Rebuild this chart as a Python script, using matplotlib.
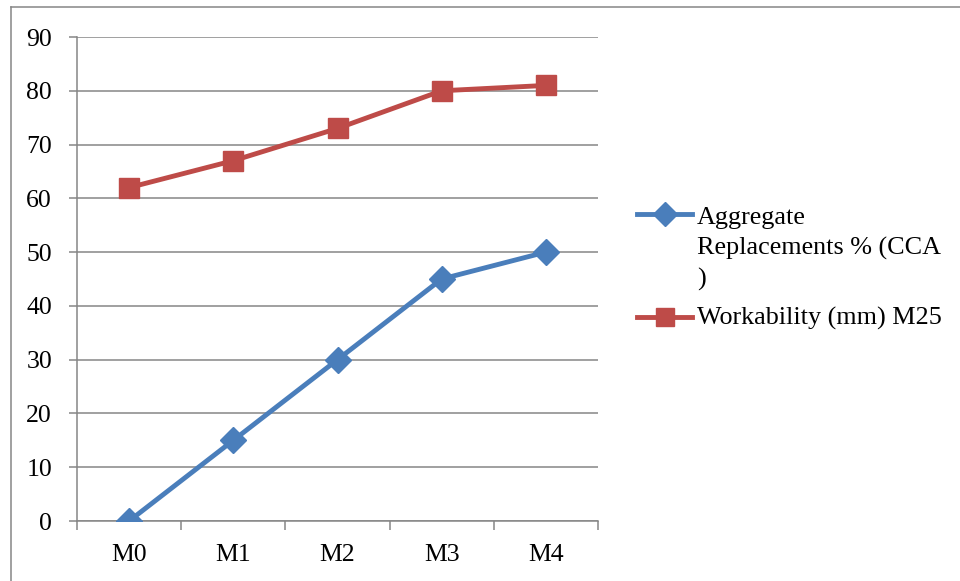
import numpy as np
import matplotlib
matplotlib.use("Agg")
import matplotlib.pyplot as plt
from matplotlib.lines import Line2D

plt.rcParams['font.family'] = ['Liberation Serif', 'DejaVu Serif']

# mix designations and the two series
mixes = ["M0", "M1", "M2", "M3", "M4"]
cca_replacement = [0, 15, 30, 45, 50]
workability_m25 = [62, 67, 73, 80, 81]
y_ticks = [0, 10, 20, 30, 40, 50, 60, 70, 80, 90]
series_names = ["Aggregate\nReplacements % (CCA\n)", "Workability (mm) M25"]

grid_col = "#868686"
blue = "#4A7EBB"
red = "#BE4B48"
W, H = 960, 581


def fx(px):
    return px / W


def fy(py):
    return 1 - py / H


fig = plt.figure(figsize=(9.6, 5.81), dpi=100)
ax = fig.add_axes([fx(77), fy(521), fx(598 - 77), (521 - 37) / H])

x = np.arange(len(mixes))
styles = [dict(color=blue, marker='D', ms=13), dict(color=red, marker='s', ms=14)]
for vals, st in zip([cca_replacement, workability_m25], styles):
    ax.plot(x, vals, color=st['color'], lw=3.5, marker=st['marker'], ms=st['ms'],
            mfc=st['color'], mec=st['color'], zorder=3)

ax.set_xlim(-0.5, len(mixes) - 0.5)
ax.set_ylim(0, 90)
ax.set_yticks(y_ticks)
ax.set_xticks(x)
ax.set_xticklabels(mixes)
ax.set_xticks(np.arange(-0.5, len(mixes)), minor=True)
ax.tick_params(axis='x', which='major', length=0, pad=16.5, labelsize=18.5)
ax.tick_params(axis='x', which='minor', length=6.5, width=1.1, color=grid_col, direction='out')
ax.tick_params(axis='y', length=6, width=1.1, color=grid_col, pad=12, labelsize=18.5)

ax.yaxis.grid(True, color=grid_col, lw=1.1)
ax.set_axisbelow(True)
for s in ['top', 'right']:
    ax.spines[s].set_visible(False)
for s in ['left', 'bottom']:
    ax.spines[s].set_color(grid_col)
    ax.spines[s].set_linewidth(1.1)

# legend on the right, handle level with the first text line
# (text is placed by the baseline of its last line)
handle_y = [214, 317]
text_base = [286, 325]
for name, st, hy, ty in zip(series_names, styles, handle_y, text_base):
    fig.add_artist(Line2D([fx(637), fx(692)], [fy(hy), fy(hy)], color=st['color'], lw=3.5))
    fig.add_artist(Line2D([fx(664.5)], [fy(hy)], marker=st['marker'], ms=st['ms'] - 1,
                          color=st['color'], mfc=st['color'], mec=st['color']))
    fig.text(fx(697), fy(ty), name, fontsize=18.8, ha='left', va='baseline',
             linespacing=1.46)

# outer chart border
fig.add_artist(Line2D([fx(11), 1], [fy(7), fy(7)], color=grid_col, lw=1.1))
fig.add_artist(Line2D([fx(11), fx(11)], [0, fy(7)], color=grid_col, lw=1.1))

fig.savefig("out.png", dpi=100)
